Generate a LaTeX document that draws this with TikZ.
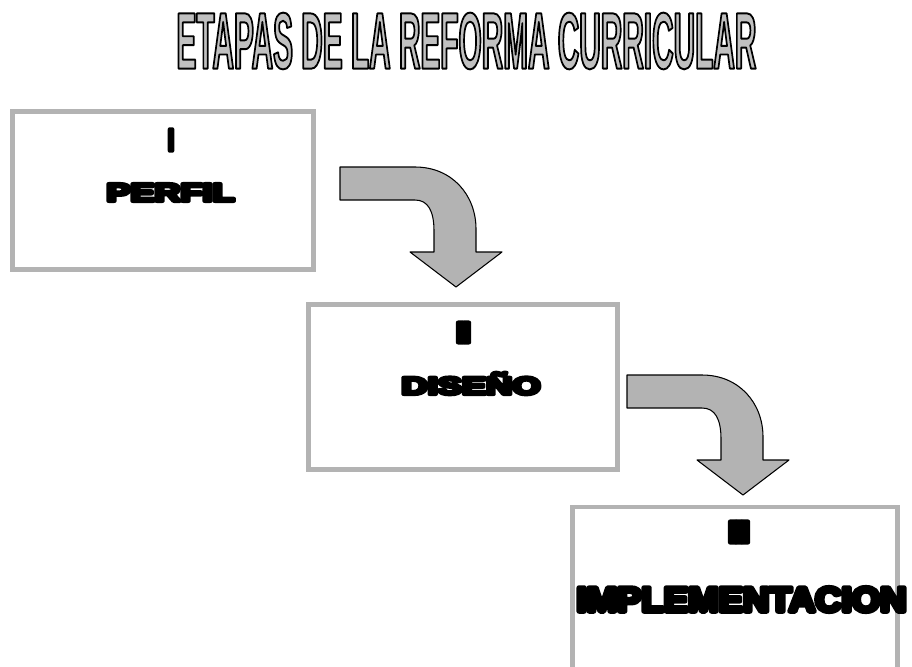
\documentclass[tikz,border=0pt]{standalone}
\usepackage{fontspec}
\usepackage{graphicx}
\setmainfont{Liberation Sans}
\newfontfamily\titlefont[FakeStretch=0.42]{Liberation Sans Bold}
\newfontfamily\heavyfont{Liberation Sans Bold}
\definecolor{boxgray}{HTML}{B3B3B3}
\definecolor{titlegray}{HTML}{C0C0C0}
% fill + black stroke of the glyphs
\newcommand\strokedtext[2]{\special{pdf:literal direct 2 Tr #1 w 1 j 1 J 0 G}#2\special{pdf:literal direct 0 Tr}}
\newcommand\heavy[1]{{\color{black}\strokedtext{1.4}{\heavyfont #1}}}
\tikzset{
  stagebox/.style={draw=boxgray,line width=2.8pt,fill=white,inner sep=0pt},
  stagetext/.style={inner sep=0pt},
  bentarrow/.pic={
    \draw[fill=boxgray,line width=0.6pt,line join=round] (0,0) -- (75,0) .. controls (112,0) and (136,28) .. (136,62) -- (136,85) -- (162,85) -- (116,120) -- (70,85) -- (94,85) -- (94,64) .. controls (94,44) and (88,33) .. (75,33) -- (0,33) -- cycle;
  }
}

\begin{document}
\begin{tikzpicture}[x=0.02cm,y=-0.02cm]
  \useasboundingbox (0,0) rectangle (912,666);
  % title
  \node[inner sep=0pt] (title) at (466.5,41) {\resizebox{11.6cm}{1.12cm}{\color{titlegray}\strokedtext{1.1}{\titlefont\fontsize{46}{50}\selectfont ETAPAS DE LA REFORMA CURRICULAR}}};
  % boxes
  \node[stagebox,minimum width=6.02cm,minimum height=3.16cm] (perfil) at (163,190.5) {};
  \node[stagebox,minimum width=6.18cm,minimum height=3.3cm] (diseno) at (463,387) {};
  \node[stagebox,minimum width=6.5cm,minimum height=3.9cm,anchor=north] (implem) at (735,504.5) {};
  % arrows
  \pic at (340,167) {bentarrow};
  \pic at (627,375) {bentarrow};
  % texts
  \node[stagetext] (num1) at (171,140) {\resizebox{0.13cm}{0.42cm}{\heavy{I}}};
  \node[stagetext] (perfiltxt) at (170.5,192.5) {\resizebox{2.56cm}{0.35cm}{\heavy{PERFIL}}};
  \node[stagetext] (num2) at (463.5,332.5) {\resizebox{0.3cm}{0.4cm}{\heavy{I\kern-0.1em I}}};
  \node[stagetext] (disenotxt) at (471,383.5) {\resizebox{2.78cm}{0.44cm}{\heavy{DISEÑO}}};
  \node[stagetext] (num3) at (739,532) {\resizebox{0.44cm}{0.42cm}{\heavy{I\kern-0.1em I\kern-0.1em I}}};
  \node[stagetext] (implemtxt) at (741.5,599.5) {\resizebox{6.6cm}{0.48cm}{\heavy{IMPLEMENTACION}}};
\end{tikzpicture}
\end{document}
